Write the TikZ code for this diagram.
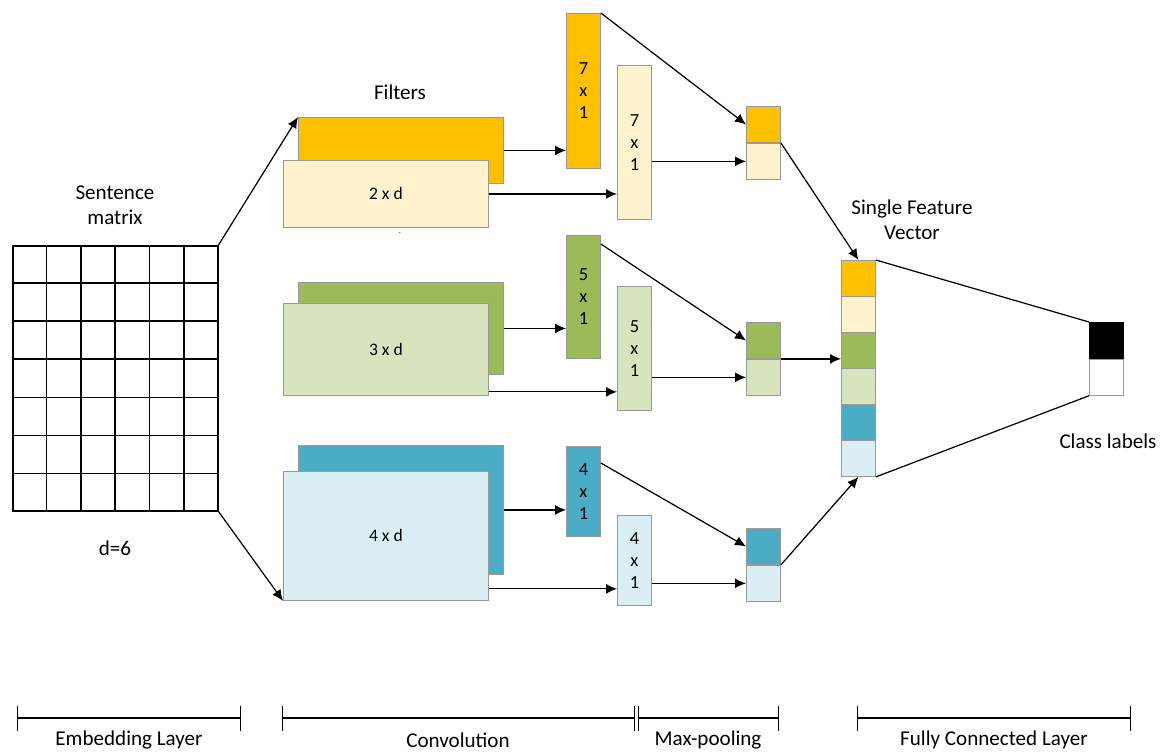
\documentclass[tikz,border=0pt]{standalone}
\usepackage{fontspec}
\setmainfont{Carlito}
\usetikzlibrary{arrows.meta,positioning,calc}

\definecolor{orgD}{HTML}{FFC000}
\definecolor{orgL}{HTML}{FFF2CC}
\definecolor{grnD}{HTML}{9BBB59}
\definecolor{grnL}{HTML}{D7E4BD}
\definecolor{bluD}{HTML}{4BACC6}
\definecolor{bluL}{HTML}{DAEEF3}

\begin{document}
\begin{tikzpicture}[
  x=0.02cm, y=-0.02cm,
  every node/.style={font=\fontsize{12}{14.5}\selectfont},
  filt/.style ={draw=gray!80, line width=0.5pt, inner sep=0pt,
                anchor=north west, minimum width=4.1cm,
                font=\fontsize{10}{12}\selectfont},
  fmap/.style ={draw=gray!80, line width=0.5pt, inner sep=0pt,
                anchor=north west, minimum width=0.68cm, align=center,
                font=\fontsize{10.5}{12.5}\selectfont},
  cell/.style ={draw=gray!80, line width=0.5pt, inner sep=0pt,
                anchor=north west, minimum width=0.68cm, minimum height=0.72cm},
  arr/.style  ={-{Latex[length=2.2mm,width=2mm]}, line width=0.7pt},
  conn/.style ={line width=0.7pt},
  brk/.style  ={{Bar[width=5mm]}-{Bar[width=5mm]}, line width=0.7pt},
  >=Latex
]
\useasboundingbox (0,0) rectangle (1162,752);

%% ---- Embedding layer (sentence matrix) ------------------------------
\node[draw, line width=0.9pt, inner sep=0pt, anchor=north west,
      minimum width=4.1cm, minimum height=5.3cm] (smat) at (12,245) {};
\foreach \i in {1,...,5}
  \draw[line width=0.9pt] ($(smat.north west)!\i/6!(smat.north east)$)
                       -- ($(smat.south west)!\i/6!(smat.south east)$);
\foreach \j in {1,...,6}
  \draw[line width=0.9pt] ($(smat.north west)!\j/7!(smat.south west)$)
                       -- ($(smat.north east)!\j/7!(smat.south east)$);

\node[align=center] (smlbl) at (115,205) {Sentence\\matrix};
\node (dlbl) at (115,548) {d=6};

%% ---- Filters ---------------------------------------------------------
\node[filt, fill=orgD, minimum height=1.32cm] (f1b) at (298,117) {};
\node[filt, fill=orgL, minimum height=1.34cm] (f1f) at (283,160) {2 x d};

\node[filt, fill=grnD, minimum height=1.84cm] (f2b) at (298,282) {};
\node[filt, fill=grnL, minimum height=1.84cm] (f2f) at (283,303) {3 x d};

\node[filt, fill=bluD, minimum height=2.58cm] (f3b) at (298,445) {};
\node[filt, fill=bluL, minimum height=2.58cm] (f3f) at (283,471) {4 x d};

\node (filtlbl) at (400,92) {Filters};
\node[font=\tiny] (dot) at (400,233) {.};

%% ---- Feature maps ----------------------------------------------------
\node[fmap, fill=orgD, minimum height=3.1cm]  (c1a) at (566,13)  {7\\x\\1};
\node[fmap, fill=orgL, minimum height=3.08cm] (c1b) at (617,65)  {7\\x\\1};

\node[fmap, fill=grnD, minimum height=2.46cm] (c2a) at (566,235) {5\\x\\1};
\node[fmap, fill=grnL, minimum height=2.48cm] (c2b) at (617,286) {5\\x\\1};

\node[fmap, fill=bluD, minimum height=1.8cm]  (c3a) at (566,446) {4\\x\\1};
\node[fmap, fill=bluL, minimum height=1.8cm]  (c3b) at (617,515) {4\\x\\1};

%% ---- Max-pooling -----------------------------------------------------
\node[cell, fill=orgD] (p1a) at (746,106) {};
\node[cell, fill=orgL] (p1b) at (p1a.south west) {};
\node[cell, fill=grnD] (p2a) at (746,322) {};
\node[cell, fill=grnL] (p2b) at (p2a.south west) {};
\node[cell, fill=bluD] (p3a) at (746,528) {};
\node[cell, fill=bluL] (p3b) at (p3a.south west) {};

%% ---- Single feature vector and class labels --------------------------
\foreach \col [count=\k] in {orgD,orgL,grnD,grnL,bluD,bluL}
  \node[cell, fill=\col] (fv\k) at (841,{260+36*(\k-1)}) {};

\node[cell, fill=black, draw=black] (out1) at (1089,322) {};
\node[cell, fill=white] (out2) at (out1.south west) {};

\node[align=center] (sfvlbl) at (912,220) {Single Feature\\Vector};
\node (clslbl) at (1108,441) {Class labels};

%% ---- Connectors ------------------------------------------------------
\draw[arr] (smat.north east) -- (f1b.north west);
\draw[arr] (smat.south east) -- (f3f.south west);

\draw[arr] (f1b.east) -- (f1b.east -| c1a.west);
\draw[arr] (f1f.east) -- (f1f.east -| c1b.west);
\draw[arr] (f2b.east) -- (f2b.east -| c2a.west);
\draw[arr] ([yshift=0.08cm]f2f.south east) -- ([yshift=0.08cm]f2f.south east -| c2b.west);
\draw[arr] (f3b.east) -- (f3b.east -| c3a.west);
\draw[arr] ([yshift=0.24cm]f3f.south east) -- ([yshift=0.24cm]f3f.south east -| c3b.west);

\draw[arr] (c1a.north east) -- (p1a.west);
\draw[arr] (c1b.east |- p1b.west) -- (p1b.west);
\draw[arr] ([yshift=-0.18cm]c2a.north east) -- (p2a.west);
\draw[arr] (c2b.east |- p2b.west) -- (p2b.west);
\draw[arr] ([yshift=-0.34cm]c3a.north east) -- (p3a.west);
\draw[arr] (c3b.east |- p3b.west) -- (p3b.west);

\draw[arr] (p1a.south east) -- (fv1.north);
\draw[arr] (p2a.south east) -- (p2a.south east -| fv3.west);
\draw[arr] (p3a.south east) -- (fv6.south);

\draw[conn] (fv1.north east) -- (out1.north west);
\draw[conn] (fv6.south east) -- (out2.south west);

%% ---- Layer brackets --------------------------------------------------
\coordinate (emb1) at (17,718);   \coordinate (emb2) at (241,718);
\coordinate (cnv1) at (282,718);  \coordinate (cnv2) at (635,718);
\coordinate (mxp1) at (638,718);  \coordinate (mxp2) at (779,718);
\coordinate (fcl1) at (857,718);  \coordinate (fcl2) at (1131,718);

\draw[brk] (emb1) -- (emb2);
\draw[brk] (cnv1) -- (cnv2);
\draw[brk] (mxp1) -- (mxp2);
\draw[brk] (fcl1) -- (fcl2);

\node (emblbl) at (129,740) {Embedding Layer};
\node (cnvlbl) at (458,740) {Convolution};
\node (mxplbl) at (708,740) {Max-pooling};
\node (fcllbl) at (994,740) {Fully Connected Layer};

\end{tikzpicture}
\end{document}
